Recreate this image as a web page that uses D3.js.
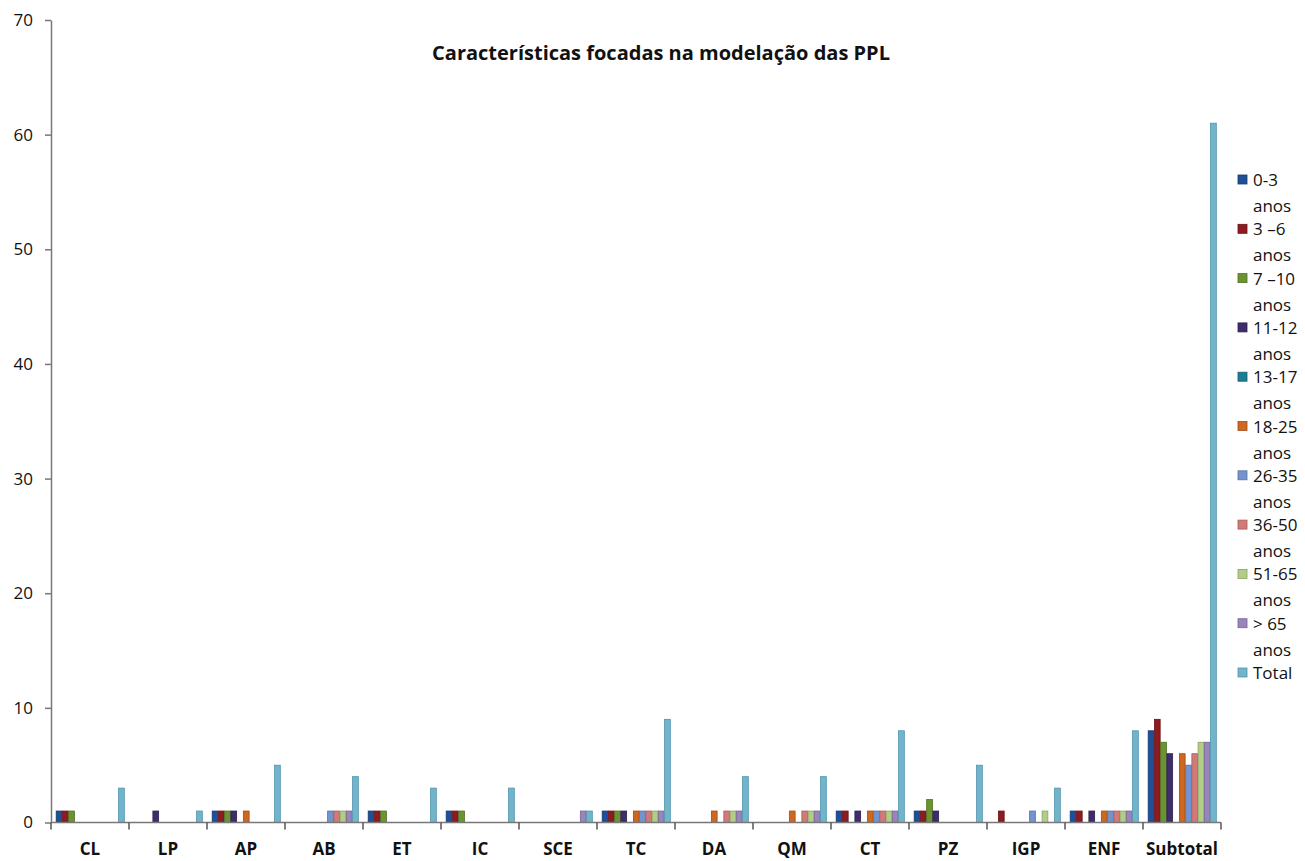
<!DOCTYPE html>
<html>
<head>
<meta charset="utf-8">
<script src="https://cdn.jsdelivr.net/npm/d3@7"></script>
<style>
  html, body { margin: 0; padding: 0; background: #fff; }
  svg { display: block; }
  text { font-family: "Open Sans", "DejaVu Sans", sans-serif; fill: #111; }
</style>
</head>
<body>
<svg id="chart" width="1305" height="861"></svg>
<script>
const categories = ["CL","LP","AP","AB","ET","IC","SCE","TC","DA","QM","CT","PZ","IGP","ENF","Subtotal"];
const seriesNames = ["0-3 anos","3 –6 anos","7 –10 anos","11-12 anos","13-17 anos","18-25 anos","26-35 anos","36-50 anos","51-65 anos","> 65 anos","Total"];
const legendLines = [["0-3","anos"],["3 –6","anos"],["7 –10","anos"],["11-12","anos"],["13-17","anos"],["18-25","anos"],["26-35","anos"],["36-50","anos"],["51-65","anos"],["> 65","anos"],["Total"]];
const colors = ["#1f4f96","#8e1b1f","#6b9431","#3f2d6b","#1d7c96","#d0671f","#7394cf","#d27a78","#b3cd86","#9985bb","#72b5cb"];
const strokes = ["#163a70","#6a1317","#4f6e24","#2c1f4d","#155b6e","#9c4d17","#5571a0","#a65c5b","#8aa065","#74658f","#4f94ad"];

// values per series, one entry per category (CL ... Subtotal)
const s0_3   = [1,0,1,0,1,1,0,1,0,0,1,1,0,1,8];
const s3_6   = [1,0,1,0,1,1,0,1,0,0,1,1,1,1,9];
const s7_10  = [1,0,1,0,1,1,0,1,0,0,0,2,0,0,7];
const s11_12 = [0,1,1,0,0,0,0,1,0,0,1,1,0,1,6];
const s13_17 = [0,0,0,0,0,0,0,0,0,0,0,0,0,0,0];
const s18_25 = [0,0,1,0,0,0,0,1,1,1,1,0,0,1,6];
const s26_35 = [0,0,0,1,0,0,0,1,0,0,1,0,1,1,5];
const s36_50 = [0,0,0,1,0,0,0,1,1,1,1,0,0,1,6];
const s51_65 = [0,0,0,1,0,0,0,1,1,1,1,0,1,1,7];
const s65p   = [0,0,0,1,0,0,1,1,1,1,1,0,0,1,7];
const sTotal = [3,1,5,4,3,3,1,9,4,4,8,5,3,8,61];
const seriesValues = [s0_3,s3_6,s7_10,s11_12,s13_17,s18_25,s26_35,s36_50,s51_65,s65p,sTotal];
const yTicks = [0,10,20,30,40,50,60,70];
const title = "Características focadas na modelação das PPL";

const svg = d3.select("#chart");
const mLeft = 51, mRight = 1221, mTop = 20, mBottom = 822.5;

const x0 = d3.scaleBand().domain(categories).range([mLeft, mRight]).paddingInner(0.12).paddingOuter(0.06);
const x1 = d3.scaleBand().domain(d3.range(seriesNames.length)).range([0, x0.bandwidth()]).padding(0);
const y = d3.scaleLinear().domain([0, 70]).range([mBottom, mTop]);

// title
svg.append("text").attr("x", 661).attr("y", 60).attr("text-anchor", "middle")
  .style("font-size", "20px").style("font-weight", "bold").text(title);

// bars
const groups = svg.append("g").selectAll("g").data(categories).join("g")
  .attr("transform", d => `translate(${x0(d)},0)`);
groups.selectAll("rect")
  .data((c, ci) => seriesValues.map((vals, si) => ({si, v: vals[ci]})).filter(d => d.v > 0))
  .join("rect")
  .attr("x", d => x1(d.si) + 0.5)
  .attr("width", x1.bandwidth() - 0.5)
  .attr("y", d => y(d.v))
  .attr("height", d => y(0) - y(d.v))
  .attr("fill", d => colors[d.si])
  .attr("stroke", d => strokes[d.si])
  .attr("stroke-width", 0.8);

// y axis
const yAxis = d3.axisLeft(y).tickValues(yTicks).tickSize(6).tickPadding(12).tickSizeOuter(0);
const yg = svg.append("g").attr("transform", `translate(${mLeft},0)`).call(yAxis);
yg.select(".domain").attr("stroke", "#777").attr("stroke-width", 1.5);
yg.selectAll(".tick line").attr("stroke", "#777").attr("stroke-width", 1.5);
yg.selectAll(".tick text").style("font-size", "17px").attr("fill", "#111").style("font-family", "'Open Sans', sans-serif");

// x axis line and boundary ticks
const xg = svg.append("g");
xg.append("line").attr("x1", mLeft).attr("x2", mRight).attr("y1", y(0)).attr("y2", y(0))
  .attr("stroke", "#777").attr("stroke-width", 1.5);
const boundaries = categories.map(c => x0(c) - x0.step() * 0.06).concat([mRight]);
xg.selectAll("line.b").data(boundaries).join("line").attr("class", "b")
  .attr("x1", d => d).attr("x2", d => d).attr("y1", y(0)).attr("y2", y(0) + 7)
  .attr("stroke", "#555").attr("stroke-width", 1.5);
xg.selectAll("text").data(categories).join("text")
  .attr("x", d => x0(d) + x0.bandwidth() / 2)
  .attr("y", 855)
  .attr("text-anchor", "middle")
  .style("font-size", "17px").style("font-weight", "bold")
  .text(d => d);

// legend
const lg = svg.append("g");
legendLines.forEach((lines, i) => {
  const yy = 180 + i * 49.3;
  lg.append("rect").attr("x", 1238).attr("y", yy - 5).attr("width", 9).attr("height", 9)
    .attr("fill", colors[i]).attr("stroke", strokes[i]).attr("stroke-width", 0.8);
  lines.forEach((t, j) => {
    lg.append("text").attr("x", 1253).attr("y", yy + 6 + j * 26)
      .style("font-size", "17px").text(t);
  });
});
</script>
</body>
</html>
